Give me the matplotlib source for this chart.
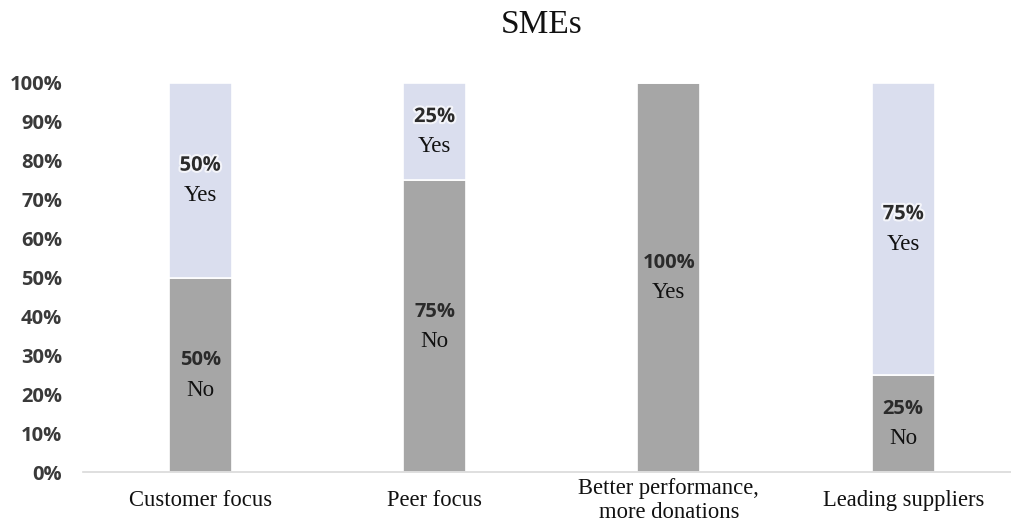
import numpy as np
import matplotlib.pyplot as plt
import matplotlib.patheffects as pe

# Data (percent of respondents)
categories = ["Customer focus", "Peer focus", "Better performance,\nmore donations", "Leading suppliers"]
lower_vals = [50, 75, 100, 25]
upper_vals = [50, 25, 0, 75]
lower_words = ["No", "No", "Yes", "No"]
upper_words = ["Yes", "Yes", "", "Yes"]
y_ticks = [0, 10, 20, 30, 40, 50, 60, 70, 80, 90, 100]

dark = "#a6a6a6"
light = "#dadeee"
serif = "Liberation Serif"
sans = "Open Sans"

fig = plt.figure(figsize=(10.11, 5.28), dpi=100)
ax = fig.add_axes([83 / 1011, 56 / 528, 928 / 1011, 389 / 528])

x = np.arange(len(categories))
w = 0.27
ax.bar(x, lower_vals, w, color=dark, edgecolor="white", linewidth=1.2)
ax.bar(x, upper_vals, w, bottom=lower_vals, color=light, edgecolor="white", linewidth=1.2)

def seg_label(xi, bottom, height, word, halo):
    if height <= 0:
        return
    yc = bottom + height / 2
    effects = [pe.withStroke(linewidth=3, foreground="#f4f5fa")] if halo else None
    ax.annotate(f"{height}%", (xi, yc), xytext=(0, 10.5), textcoords="offset points",
                ha="center", va="center", fontsize=14.5, fontweight="bold",
                family=sans, color="#2b2b2b", path_effects=effects)
    ax.annotate(word, (xi, yc), xytext=(0, -11), textcoords="offset points",
                ha="center", va="center", fontsize=16.5, family=serif, color="#111111")

for i in range(len(categories)):
    seg_label(x[i], 0, lower_vals[i], lower_words[i], False)
    seg_label(x[i], lower_vals[i], upper_vals[i], upper_words[i], True)

ax.set_xlim(-0.5, 3.46)
ax.set_ylim(0, 100)
ax.set_yticks(y_ticks)
ax.set_yticklabels([f"{t}%" for t in y_ticks], family=sans, fontweight="bold",
                   fontsize=14.5, color="#3a3a3a")
ax.tick_params(axis="y", length=0, pad=15)
ax.set_xticks([])
for i, c in enumerate(categories):
    ax.text(x[i], -0.073, c, transform=ax.get_xaxis_transform(), ha="center", va="center",
            fontsize=16.3, family=serif, color="#111111", linespacing=1.15)

for s in ["top", "right", "left"]:
    ax.spines[s].set_visible(False)
ax.spines["bottom"].set_color("#d9d9d9")
ax.spines["bottom"].set_linewidth(1.2)

fig.text(542 / 1011, 1 - 25 / 528, "SMEs", ha="center", va="center",
         fontsize=24, family=serif, color="#111111")

fig.savefig("out.png", dpi=100)
